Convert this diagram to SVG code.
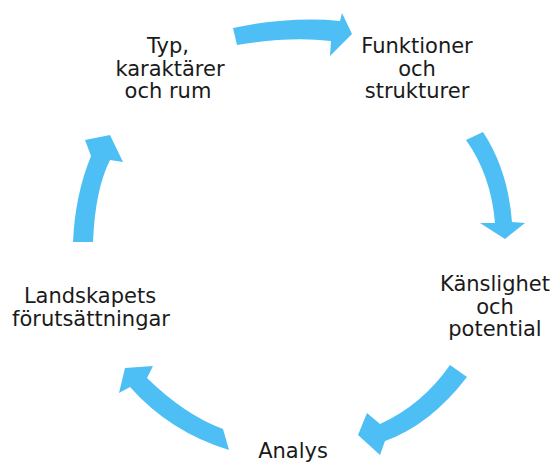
<svg xmlns="http://www.w3.org/2000/svg" width="554" height="462" viewBox="0 0 554 462">
<style>
.t{font-family:"DejaVu Sans","Verdana",sans-serif;font-size:21px;fill:#1a1a1a;text-anchor:middle}
.a{fill:#4dbff5}
</style>
<rect width="554" height="462" fill="#fff"/>
<g id="connectors">
<path class="a" d="M233,28 Q290,16 340,21 L342,13 L352,34 L330,56 L331,41 Q290,36 237,45 Z"/>
<path class="a" d="M466,140 L483,132 Q508,170 512,222 L525,223 L505,239 L480,223 L495,223 Q491,175 466,140 Z"/>
<path class="a" d="M450,365 L467,377 Q430,425 385,441 L380,455 L358,435 L367,413 L380,424 Q422,405 450,365 Z"/>
<path class="a" d="M223,429 L229,450 Q170,432 130,387 L119,393 L125,368 L153,366 L147,378 Q185,415 223,429 Z"/>
<path class="a" d="M73,242 L93,242 Q95,190 110,160 L123,162 L110,135 L85,140 L91,156 Q75,195 73,242 Z"/>
</g>
<g id="typ">
<text class="t" x="168" y="53">Typ,</text>
<text class="t" x="170" y="75.5">karaktärer</text>
<text class="t" x="168" y="98">och rum</text>
</g>
<g id="funktioner">
<text class="t" x="417" y="53">Funktioner</text>
<text class="t" x="417" y="75.5">och</text>
<text class="t" x="417" y="98">strukturer</text>
</g>
<g id="kanslighet">
<text class="t" x="495" y="291">Känslighet</text>
<text class="t" x="495" y="313.5">och</text>
<text class="t" x="495" y="336">potential</text>
</g>
<g id="analys">
<text class="t" x="293" y="458">Analys</text>
</g>
<g id="landskapets">
<text class="t" x="90" y="303">Landskapets</text>
<text class="t" x="91" y="326">förutsättningar</text>
</g>
</svg>
